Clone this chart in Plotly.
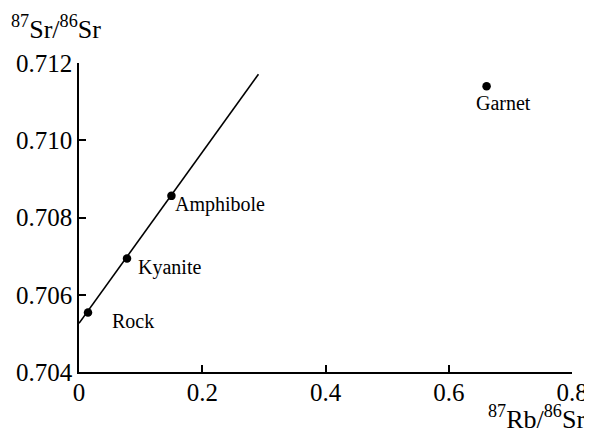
import plotly.graph_objects as go

# Data
minerals = ["Rock", "Kyanite", "Amphibole", "Garnet"]
rb_sr = [0.0146, 0.0779, 0.150, 0.6614]
sr_sr = [0.70554, 0.70694, 0.70856, 0.71140]

iso_x = [0.0, 0.2912]
iso_y = [0.70526, 0.71171]

x_ticks = [0, 0.2, 0.4, 0.6, 0.8]
x_ticktext = ["0", "0.2", "0.4", "0.6", "0.8"]
y_ticks = [0.704, 0.706, 0.708, 0.710, 0.712]
y_ticktext = ["0.704", "0.706", "0.708", "0.710", "0.712"]

label_shift = {"Rock": (22, -8, "left"), "Kyanite": (9, -9, "left"),
               "Amphibole": (2, -9, "left"), "Garnet": (17, -17, "center")}

FONT = "Liberation Serif"

fig = go.Figure()
fig.add_trace(go.Scatter(x=iso_x, y=iso_y, mode="lines",
                         line=dict(color="black", width=1.6),
                         hoverinfo="skip", showlegend=False))
fig.add_trace(go.Scatter(x=rb_sr, y=sr_sr, mode="markers",
                         marker=dict(color="black", size=8.5),
                         cliponaxis=False, showlegend=False))

annotations = []
for name, x, y in zip(minerals, rb_sr, sr_sr):
    dx, dy, anchor = label_shift[name]
    annotations.append(dict(x=x, y=y, xref="x", yref="y", text=name,
                            showarrow=False, xanchor=anchor, yanchor="middle",
                            xshift=dx, yshift=dy,
                            font=dict(family=FONT, size=20, color="black")))

annotations.append(dict(xref="paper", yref="paper", x=0, y=1,
                        text="<sup>87</sup>Sr/<sup>86</sup>Sr",
                        showarrow=False, xanchor="left", yanchor="middle",
                        xshift=-70, yshift=36,
                        font=dict(family=FONT, size=26, color="black")))
annotations.append(dict(xref="paper", yref="paper", x=1, y=0,
                        text="<sup>87</sup>Rb/<sup>86</sup>Sr",
                        showarrow=False, xanchor="right", yanchor="middle",
                        xshift=15, yshift=-45,
                        font=dict(family=FONT, size=26, color="black")))

axis_common = dict(showgrid=False, zeroline=False, showline=True, automargin=False,
                   linecolor="black", linewidth=1.5, ticks="inside",
                   ticklen=7, tickwidth=1.5, tickcolor="black",
                   tickfont=dict(family=FONT, size=25, color="black"))

# the page body adds an 8px offset, so the figure is sized to fill the rest
fig.update_layout(
    template="none",
    width=584, height=426,
    margin=dict(l=71, r=20, t=55, b=62, pad=0),
    paper_bgcolor="white", plot_bgcolor="white",
    font=dict(family=FONT, color="black"),
    xaxis=dict(range=[0, 0.8], tickvals=x_ticks, ticktext=x_ticktext,
               ticklabelstandoff=-3, **axis_common),
    yaxis=dict(range=[0.704, 0.712], tickvals=y_ticks, ticktext=y_ticktext, **axis_common),
    annotations=annotations,
    showlegend=False,
)

fig.write_html("out.html")
